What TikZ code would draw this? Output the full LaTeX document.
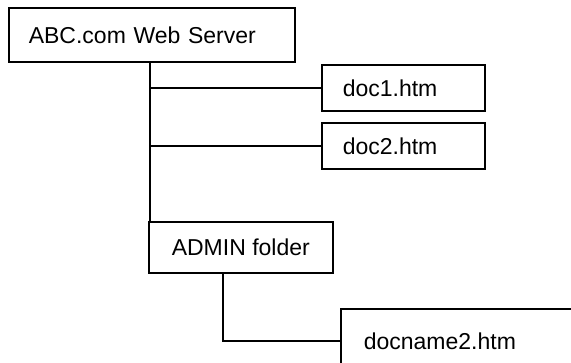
\documentclass[tikz,border=0pt]{standalone}
\usepackage{fontspec}
\setmainfont{Liberation Sans}
\begin{document}
\begin{tikzpicture}[x=1pt,y=-1pt,
  every node/.style={font=\fontsize{23}{27}\selectfont},
  box/.style={draw, line width=1.6pt, anchor=north west, inner ysep=0pt},
  leftbox/.style={box, align=left},
  link/.style={line width=1.6pt}]
  \useasboundingbox (0,0) rectangle (571,362);
  % directory entries
  \node[leftbox, minimum width=286pt, minimum height=54pt, text width=246pt, inner xsep=20pt]
    (root) at (8,7) {ABC.com Web Server};
  \node[leftbox, minimum width=163pt, minimum height=46pt, text width=121pt, inner xsep=21pt]
    (doc1) at (321,64) {doc1.htm};
  \node[leftbox, minimum width=163pt, minimum height=46pt, text width=121pt, inner xsep=21pt]
    (doc2) at (321,122) {doc2.htm};
  \node[box, minimum width=184pt, minimum height=51pt]
    (admin) at (148,221) {ADMIN folder};
  \node[leftbox, minimum width=260pt, minimum height=64pt, text width=214pt, inner xsep=23pt]
    (docname) at (340,308) {docname2.htm};
  % tree branches
  \coordinate (trunk) at (150,0);
  \coordinate (sub) at (223,0);
  \draw[link] (root.south -| trunk) -- (admin.north -| trunk);
  \draw[link] (doc1.west -| trunk) -- (doc1.west);
  \draw[link] (doc2.west -| trunk) -- (doc2.west);
  \draw[link] (admin.south -| sub) |- (docname.west);
\end{tikzpicture}
\end{document}
